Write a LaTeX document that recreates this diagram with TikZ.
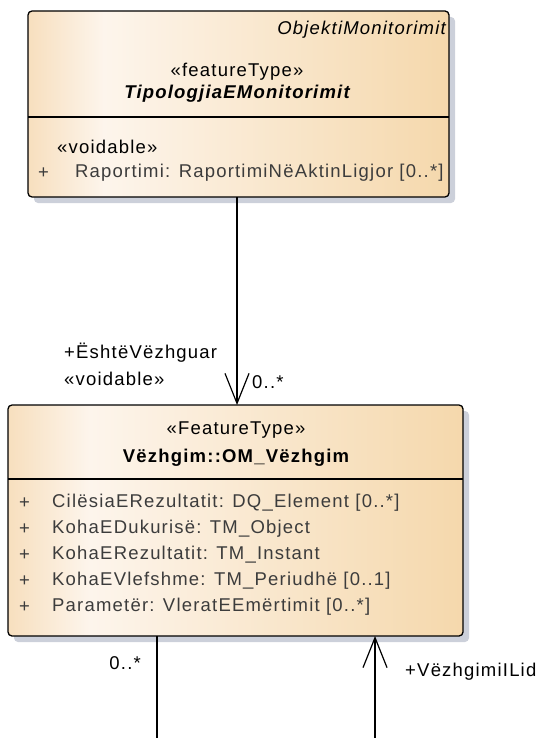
\documentclass[tikz,border=0pt]{standalone}
\usepackage{fontspec}
\setmainfont[LetterSpace=6.5]{Liberation Sans}
\usetikzlibrary{arrows.meta}
\definecolor{cA}{HTML}{F7DFBE}
\definecolor{cB}{HTML}{FDF5EC}
\definecolor{cC}{HTML}{F5D8AC}
\definecolor{shad}{RGB}{204,208,218}
\definecolor{attr}{HTML}{3C3C3C}
\pgfdeclarehorizontalshading{boxfill}{100bp}{color(0bp)=(cA); color(25bp)=(cA); color(34bp)=(cB); color(75bp)=(cC); color(100bp)=(cC)}
\tikzset{
  umlbox/.style={draw=black, line width=1.3pt, rounded corners=4pt, shading=boxfill},
  boxshadow/.style={fill=shad, rounded corners=4pt},
  divider/.style={draw=black, line width=1.1pt},
  txt/.style={inner sep=0pt, font=\fontsize{18.5}{22}\selectfont},
  attrtxt/.style={txt, text=attr, anchor=west},
  conn/.style={draw=black, line width=1.2pt},
  openarrow/.style={-{Straight Barb[length=30pt,width=24pt,line width=1.2pt]}}
}
\begin{document}
\begin{tikzpicture}[x=1pt,y=-1pt]
\useasboundingbox (0,0) rectangle (546,738);
% top box
\fill[boxshadow] (34,17) rectangle (455,203);
\path[umlbox] (28,11) rectangle (449,197);
\draw[divider] (28,117) -- (449,117);
\node[txt, anchor=east, font=\fontsize{18.5}{22}\selectfont\itshape] (ns) at (446,30) {ObjektiMonitorimit};
\node[txt] (st1) at (237,72) {«featureType»};
\node[txt, font=\fontsize{18.5}{22}\selectfont\bfseries\itshape] (n1) at (237,94) {TipologjiaEMonitorimit};
\node[txt, anchor=west] (vd1) at (57,147) {«voidable»};
\node[attrtxt] (p1) at (38,173) {+};
\node[attrtxt] (a1) at (75,173) {Raportimi: RaportimiNëAktinLigjor [0..*]};
\coordinate (topB) at (237,197);
% lower box
\fill[boxshadow] (14,411) rectangle (469,642);
\path[umlbox] (8,405) rectangle (463,636);
\draw[divider] (8,479) -- (463,479);
\node[txt] (st2) at (236,430) {«FeatureType»};
\node[txt, font=\fontsize{18.5}{22}\selectfont\bfseries] (n2) at (236,458) {Vëzhgim::OM\_Vëzhgim};
\node[attrtxt] (q1) at (19,503) {+};
\node[attrtxt] (b1) at (52,503) {CilësiaERezultatit: DQ\_Element [0..*]};
\node[attrtxt] (q2) at (19,529) {+};
\node[attrtxt] (b2) at (52,529) {KohaEDukurisë: TM\_Object};
\node[attrtxt] (q3) at (19,555) {+};
\node[attrtxt] (b3) at (52,555) {KohaERezultatit: TM\_Instant};
\node[attrtxt] (q4) at (19,581) {+};
\node[attrtxt] (b4) at (52,581) {KohaEVlefshme: TM\_Periudhë [0..1]};
\node[attrtxt] (q5) at (19,607) {+};
\node[attrtxt] (b5) at (52,607) {Parametër: VleratEEmërtimit [0..*]};
\coordinate (lowT) at (237,405);
\coordinate (lowBL) at (157,636);
\coordinate (lowBR) at (375,636);
\coordinate (endL) at (157,738);
\coordinate (endR) at (375,738);
% connectors
\draw[conn, openarrow] (topB) -- (lowT);
\node[txt, anchor=west] (r1) at (64,353) {+ËshtëVëzhguar};
\node[txt, anchor=west] (r2) at (64,379) {«voidable»};
\node[txt, anchor=west] (m1) at (252,382) {0..*};
\draw[conn] (lowBL) -- (endL);
\node[txt, anchor=east] (m2) at (141,663) {0..*};
\draw[conn, openarrow] (endR) -- (lowBR);
\node[txt, anchor=west] (r3) at (405,672) {+VëzhgimiILid};
\end{tikzpicture}
\end{document}
